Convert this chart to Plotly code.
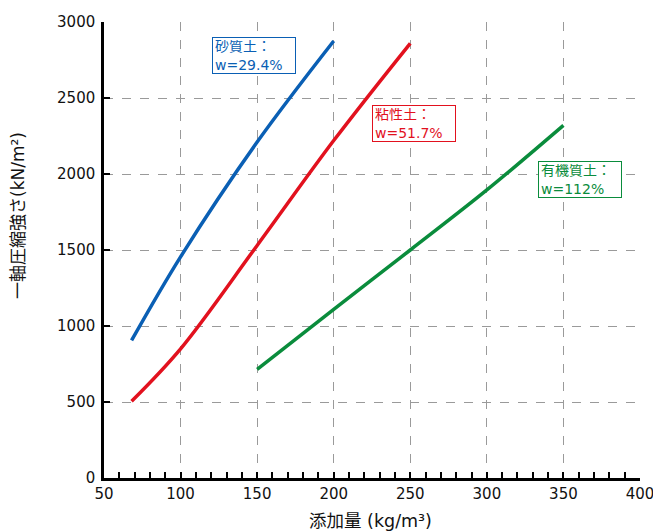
import plotly.graph_objects as go

# Data
sand_x = [68, 100, 150, 200]
sand_y = [905, 1455, 2210, 2875]

clay_x = [68, 100, 150, 200, 250]
clay_y = [505, 850, 1530, 2220, 2860]

org_x = [150, 200, 250, 300, 350]
org_y = [715, 1110, 1500, 1895, 2320]

labels = ["砂質土：<br>w=29.4%", "粘性土：<br>w=51.7%", "有機質土：<br>w=112%"]
label_x = [148, 252.5, 360.5]
label_y = [2779, 2332, 1964]
colors = ["#0a5fb4", "#e2111e", "#0a8c3c"]

x_title = "添加量 (kg/m³)"
y_title = "一軸圧縮強さ(kN/m²)"

FONT = "DejaVu Sans, Noto Sans CJK JP"

# page body has an 8px margin, so the figure is a little smaller and shifted
OFF = 8
W, H = 661 - OFF, 532 - OFF
l, r, t, b = 104 - OFF, 21, 22 - OFF, 54

fig = go.Figure()
for xs, ys, c in [(sand_x, sand_y, colors[0]), (clay_x, clay_y, colors[1]), (org_x, org_y, colors[2])]:
    fig.add_trace(go.Scatter(x=xs, y=ys, mode="lines",
                             line=dict(color=c, width=3.5, shape="spline", smoothing=1.0),
                             showlegend=False, hoverinfo="skip"))

for tx, x, y, c in zip(labels, label_x, label_y, colors):
    fig.add_annotation(x=x, y=y, xref="x", yref="y", text=tx, showarrow=False,
                       align="left", font=dict(family=FONT, size=14, color=c),
                       width=78, height=31,
                       bordercolor=c, borderwidth=1, borderpad=2, bgcolor="white")

pw, ph = W - l - r, H - t - b
def px_to_paper(px, py):
    return (px - OFF - l) / pw, (H - b - (py - OFF)) / ph

xt = px_to_paper(370, 521)
fig.add_annotation(x=xt[0], y=xt[1], xref="paper", yref="paper", text=x_title, showarrow=False,
                   font=dict(family=FONT, size=17.5, color="#111"), yanchor="middle", xanchor="center")
yt = px_to_paper(18, 216)
fig.add_annotation(x=yt[0], y=yt[1], xref="paper", yref="paper", text=y_title, showarrow=False,
                   textangle=-90, font=dict(family=FONT, size=17, color="#111"),
                   yanchor="middle", xanchor="center")

fig.update_layout(
    width=W, height=H,
    margin=dict(l=l, r=r, t=t, b=b, autoexpand=False),
    plot_bgcolor="white", paper_bgcolor="white",
    font=dict(family=FONT, size=15, color="#111"),
    xaxis=dict(range=[50, 400], dtick=50, tick0=50, automargin=False,
               showgrid=True, gridcolor="#9a9a9a", griddash="dash", gridwidth=1,
               showline=True, linecolor="black", linewidth=2.5,
               ticks="inside", ticklen=6, tickwidth=1.5, tickcolor="black",
               ticklabelstandoff=0,
               minor=dict(dtick=10, ticks="inside", ticklen=6, tickwidth=1.5, tickcolor="black", showgrid=False),
               zeroline=False),
    yaxis=dict(range=[0, 3000], dtick=500, automargin=False,
               showgrid=True, gridcolor="#9a9a9a", griddash="dash", gridwidth=1,
               showline=True, linecolor="black", linewidth=2.5,
               ticks="inside", ticklen=6, tickwidth=1.5, tickcolor="black",
               ticklabelstandoff=3,
               zeroline=False),
)

fig.write_html("out.html")
